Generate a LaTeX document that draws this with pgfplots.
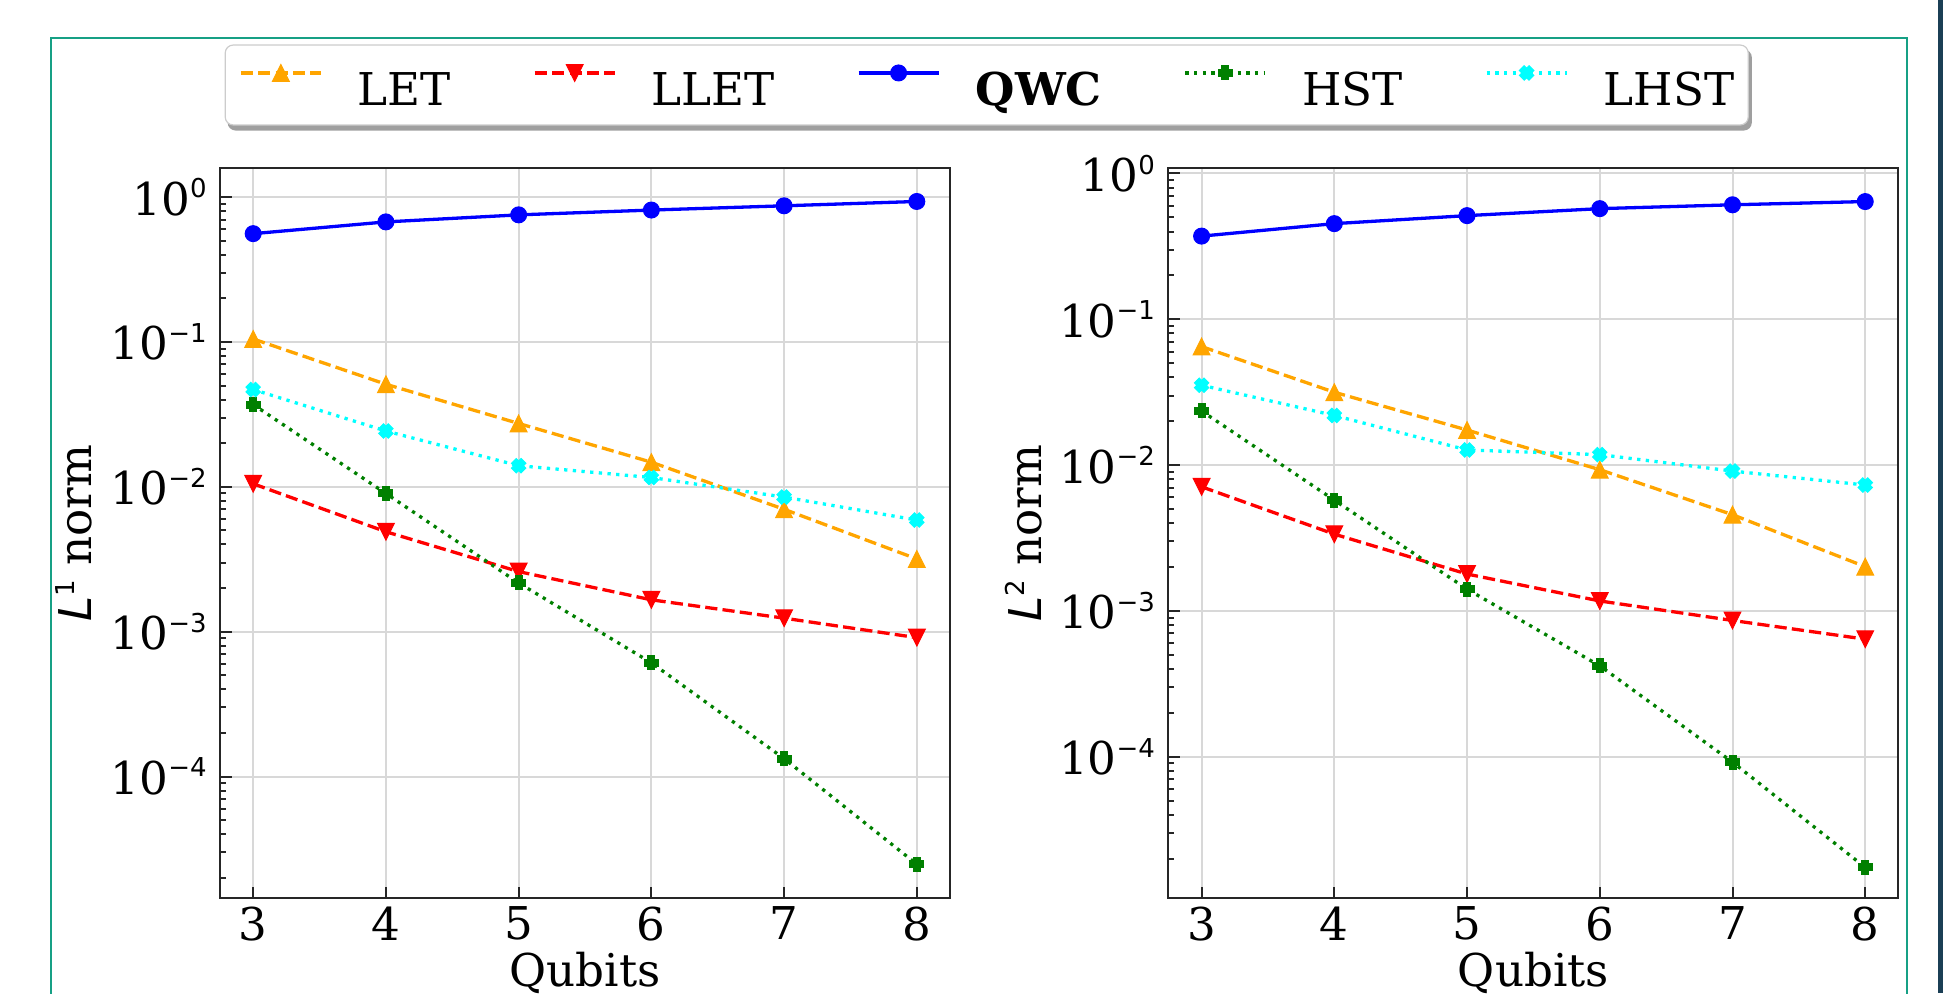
\documentclass[border=0pt]{standalone}
\usepackage{fontspec}
\setmainfont{DejaVu Serif}
\setsansfont{DejaVu Sans}
\usepackage{pgfplots}
\pgfplotsset{compat=1.18}
\usetikzlibrary{backgrounds}

\definecolor{mOrange}{RGB}{255,165,0}
\definecolor{mRed}{RGB}{255,0,0}
\definecolor{mBlue}{RGB}{0,0,255}
\definecolor{mGreen}{RGB}{0,128,0}
\definecolor{mCyan}{RGB}{0,255,255}
\definecolor{mGrid}{RGB}{216,216,216}
\definecolor{mEdge}{RGB}{204,204,204}
\definecolor{mFrame}{RGB}{22,160,133}
\definecolor{mDark}{RGB}{27,63,85}

% matplotlib-like markers
\pgfdeclareplotmark{mtriup}{%
  \pgfpathmoveto{\pgfqpoint{0pt}{\pgfplotmarksize}}%
  \pgfpathlineto{\pgfqpoint{-\pgfplotmarksize}{-\pgfplotmarksize}}%
  \pgfpathlineto{\pgfqpoint{\pgfplotmarksize}{-\pgfplotmarksize}}%
  \pgfpathclose\pgfusepathqfillstroke}
\pgfdeclareplotmark{mtridown}{%
  \pgfpathmoveto{\pgfqpoint{0pt}{-\pgfplotmarksize}}%
  \pgfpathlineto{\pgfqpoint{-\pgfplotmarksize}{\pgfplotmarksize}}%
  \pgfpathlineto{\pgfqpoint{\pgfplotmarksize}{\pgfplotmarksize}}%
  \pgfpathclose\pgfusepathqfillstroke}
\pgfdeclareplotmark{mplus}{%
  \pgfpathmoveto{\pgfqpoint{-0.5\pgfplotmarksize}{-\pgfplotmarksize}}%
  \pgfpathlineto{\pgfqpoint{-0.5\pgfplotmarksize}{-0.5\pgfplotmarksize}}%
  \pgfpathlineto{\pgfqpoint{-\pgfplotmarksize}{-0.5\pgfplotmarksize}}%
  \pgfpathlineto{\pgfqpoint{-\pgfplotmarksize}{0.5\pgfplotmarksize}}%
  \pgfpathlineto{\pgfqpoint{-0.5\pgfplotmarksize}{0.5\pgfplotmarksize}}%
  \pgfpathlineto{\pgfqpoint{-0.5\pgfplotmarksize}{\pgfplotmarksize}}%
  \pgfpathlineto{\pgfqpoint{0.5\pgfplotmarksize}{\pgfplotmarksize}}%
  \pgfpathlineto{\pgfqpoint{0.5\pgfplotmarksize}{0.5\pgfplotmarksize}}%
  \pgfpathlineto{\pgfqpoint{\pgfplotmarksize}{0.5\pgfplotmarksize}}%
  \pgfpathlineto{\pgfqpoint{\pgfplotmarksize}{-0.5\pgfplotmarksize}}%
  \pgfpathlineto{\pgfqpoint{0.5\pgfplotmarksize}{-0.5\pgfplotmarksize}}%
  \pgfpathlineto{\pgfqpoint{0.5\pgfplotmarksize}{-\pgfplotmarksize}}%
  \pgfpathclose\pgfusepathqfillstroke}
\pgfdeclareplotmark{mx}{\pgftransformrotate{45}\pgfuseplotmark{mplus}}

\newcommand{\bigf}{\fontsize{22.6pt}{27pt}\selectfont}
\newcommand{\sexp}[1]{10\raisebox{8.7pt}{\fontsize{13pt}{13pt}\selectfont\sffamily #1}}
\newcommand{\Lnorm}[1]{{\sffamily\itshape L}\raisebox{8.7pt}{\fontsize{13pt}{13pt}\selectfont\sffamily #1} norm}

\pgfplotsset{
  LETs/.style={mOrange, line width=1.65pt, dash pattern=on 6.1pt off 2.6pt,
    mark=mtriup, mark size=4.2pt, mark options={solid, fill=mOrange, line width=0.5pt}},
  LLETs/.style={mRed, line width=1.65pt, dash pattern=on 6.1pt off 2.6pt,
    mark=mtridown, mark size=4.2pt, mark options={solid, fill=mRed, line width=0.5pt}},
  QWCs/.style={mBlue, line width=1.65pt, solid,
    mark=*, mark size=4pt, mark options={solid, fill=mBlue, line width=0.5pt}},
  HSTs/.style={mGreen, line width=1.65pt, dash pattern=on 1.65pt off 2.7pt,
    mark=mplus, mark size=3.5pt, mark options={solid, fill=mGreen, line width=0.5pt}},
  LHSTs/.style={mCyan, line width=1.65pt, dash pattern=on 1.65pt off 2.7pt,
    mark=mx, mark size=3.4pt, mark options={solid, fill=mCyan, line width=0.5pt}},
}

\begin{document}
\begin{tikzpicture}
\useasboundingbox (0,0) rectangle (971.5pt,496.5pt);
% slide frame around the figure
\draw[mFrame, line width=1pt] (25.35pt,-5pt) -- (25.35pt,477.35pt) -- (953.35pt,477.35pt) -- (953.35pt,-5pt);
\fill[mDark] (969pt,0pt) rectangle (972pt,497pt);

\begin{axis}[
  width=365pt, height=365pt, scale only axis,
  at={(110pt,47.4pt)}, anchor=south west,
  xmin=2.75, xmax=8.25, ymode=log,
  ymin=1.445e-5, ymax=1.585,
  xtick={3,4,5,6,7,8},
  ytick={1e-4,1e-3,1e-2,1e-1,1},
  yticklabels={\sexp{−4},\sexp{−3},\sexp{−2},\sexp{−1},\sexp{0}},
  minor ytick={2e-5,3e-5,4e-5,5e-5,6e-5,7e-5,8e-5,9e-5,
               2e-4,3e-4,4e-4,5e-4,6e-4,7e-4,8e-4,9e-4,
               2e-3,3e-3,4e-3,5e-3,6e-3,7e-3,8e-3,9e-3,
               2e-2,3e-2,4e-2,5e-2,6e-2,7e-2,8e-2,9e-2,
               2e-1,3e-1,4e-1,5e-1,6e-1,7e-1,8e-1,9e-1},
  tick align=inside, xtick pos=bottom, ytick pos=left,
  major tick length=5.8pt, minor tick length=3pt,
  tick style={black!85, line width=1pt},
  grid=major, major grid style={mGrid, line width=1pt},
  axis line style={black!85, line width=1pt},
  tick label style={font=\bigf},
  xticklabel style={inner ysep=4pt},
  yticklabel style={inner xsep=6.5pt},
  /pgf/number format/assume math mode=true,
  label style={font=\bigf},
  xlabel={Qubits},
  xlabel style={at={(axis description cs:0.5,-0.1216)}, anchor=base},
  ylabel={\Lnorm{1}},
  ylabel style={at={(axis description cs:-0.1758,0.5)}, anchor=base},
  legend image code/.code={\draw[mark repeat=2,mark phase=2]
      plot coordinates {(0pt,8pt) (20pt,8pt) (40pt,8pt)};},
  legend columns=5, legend cell align=left,
  legend style={name=leg, at={(axis description cs:1.0503,1.114)}, anchor=center,
    draw=mEdge, line width=0.6pt, fill=white, rounded corners=4pt,
    font=\bigf, inner xsep=7pt, inner ysep=9.75pt,
    /tikz/every odd column/.append style={column sep=17.7pt},
    /tikz/every even column/.append style={column sep=41pt},
    nodes={inner sep=0pt, text height=16.5pt, text depth=0pt}},
]
\addplot[LETs] coordinates {(3,0.105) (4,0.0511) (5,0.0274) (6,0.0148) (7,0.0070) (8,0.00318)};
\addplot[LLETs] coordinates {(3,0.0105) (4,0.0049) (5,0.0026) (6,0.00166) (7,0.00124) (8,0.00091)};
\addplot[QWCs] coordinates {(3,0.56) (4,0.675) (5,0.755) (6,0.815) (7,0.872) (8,0.934)};
\addplot[HSTs] coordinates {(3,0.037) (4,0.0090) (5,0.00217) (6,0.00061) (7,0.000133) (8,0.0000248)};
\addplot[LHSTs] coordinates {(3,0.047) (4,0.0243) (5,0.0140) (6,0.0116) (7,0.0085) (8,0.0059)};
\legend{LET, LLET, \textbf{QWC}, HST, LHST}
\end{axis}

% legend shadow, behind the legend box
\begin{scope}[on background layer]
\fill[gray!75, rounded corners=4pt] ([xshift=1.5pt,yshift=-2.5pt]leg.south west) rectangle ([xshift=1.5pt,yshift=-2.5pt]leg.north east);
\end{scope}

\begin{axis}[
  width=365pt, height=365pt, scale only axis,
  at={(584.2pt,47.4pt)}, anchor=south west,
  xmin=2.75, xmax=8.25, ymode=log,
  ymin=1.07e-5, ymax=1.087,
  xtick={3,4,5,6,7,8},
  ytick={1e-4,1e-3,1e-2,1e-1,1},
  yticklabels={\sexp{−4},\sexp{−3},\sexp{−2},\sexp{−1},\sexp{0}},
  minor ytick={2e-5,3e-5,4e-5,5e-5,6e-5,7e-5,8e-5,9e-5,
               2e-4,3e-4,4e-4,5e-4,6e-4,7e-4,8e-4,9e-4,
               2e-3,3e-3,4e-3,5e-3,6e-3,7e-3,8e-3,9e-3,
               2e-2,3e-2,4e-2,5e-2,6e-2,7e-2,8e-2,9e-2,
               2e-1,3e-1,4e-1,5e-1,6e-1,7e-1,8e-1,9e-1},
  tick align=inside, xtick pos=bottom, ytick pos=left,
  major tick length=5.8pt, minor tick length=3pt,
  tick style={black!85, line width=1pt},
  grid=major, major grid style={mGrid, line width=1pt},
  axis line style={black!85, line width=1pt},
  tick label style={font=\bigf},
  xticklabel style={inner ysep=4pt},
  yticklabel style={inner xsep=6.5pt},
  /pgf/number format/assume math mode=true,
  label style={font=\bigf},
  xlabel={Qubits},
  xlabel style={at={(axis description cs:0.5,-0.1216)}, anchor=base},
  ylabel={\Lnorm{2}},
  ylabel style={at={(axis description cs:-0.1734,0.5)}, anchor=base},
]
\addplot[LETs] coordinates {(3,0.065) (4,0.0316) (5,0.0174) (6,0.0093) (7,0.00457) (8,0.00201)};
\addplot[LLETs] coordinates {(3,0.0071) (4,0.00336) (5,0.00179) (6,0.00117) (7,0.00086) (8,0.00064)};
\addplot[QWCs] coordinates {(3,0.372) (4,0.453) (5,0.514) (6,0.574) (7,0.61) (8,0.642)};
\addplot[HSTs] coordinates {(3,0.0235) (4,0.00575) (5,0.00141) (6,0.00042) (7,0.0000918) (8,0.0000174)};
\addplot[LHSTs] coordinates {(3,0.0353) (4,0.0219) (5,0.0127) (6,0.0118) (7,0.0091) (8,0.0073)};
\end{axis}
\end{tikzpicture}
\end{document}
